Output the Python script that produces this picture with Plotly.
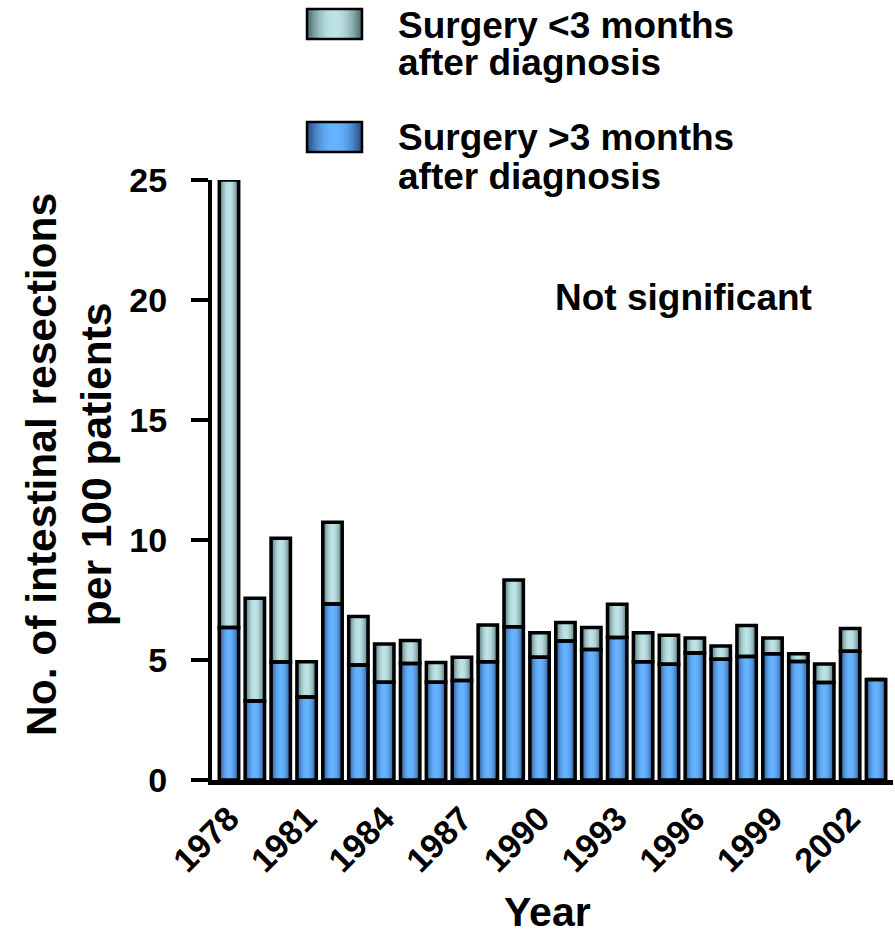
import plotly.graph_objects as go

# Intestinal resections per 100 patients, by year of diagnosis
years = list(range(1978, 2004))
late_surgery = [6.35, 3.29, 4.92, 3.46, 7.33, 4.79, 4.07, 4.85, 4.07, 4.15, 4.93, 6.39, 5.11,
                5.79, 5.44, 5.94, 4.93, 4.82, 5.29, 5.03, 5.15, 5.26, 4.94, 4.06, 5.36, 4.19]
early_surgery = [18.65, 4.28, 5.15, 1.47, 3.41, 2.02, 1.60, 0.96, 0.83, 0.96, 1.53, 1.94, 1.03,
                 0.77, 0.91, 1.38, 1.21, 1.21, 0.63, 0.55, 1.29, 0.66, 0.32, 0.77, 0.95, 0.0]
tick_years = [1978, 1981, 1984, 1987, 1990, 1993, 1996, 1999, 2002]
y_ticks = [0, 5, 10, 15, 20, 25]

label_early = ["Surgery <3 months", "after diagnosis"]
label_late = ["Surgery >3 months", "after diagnosis"]

FONT = "Liberation Sans, Arial, sans-serif"
BAR_W = 0.75
N_LAYERS = 12

EARLY_DARK, EARLY_LIGHT = (78, 106, 108), (188, 226, 228)
LATE_DARK, LATE_LIGHT = (40, 80, 132), (102, 178, 255)


def mix(a, b, t):
    return "rgb({},{},{})".format(*[round(a[i] + (b[i] - a[i]) * t) for i in range(3)])


def shade(k):
    frac = k / (N_LAYERS - 1)
    return 1 - (1 - frac) ** 2


x = list(range(len(years)))
late_base = [0] * len(years)
early_base = late_surgery

fig = go.Figure()

# Cylinder-like horizontal gradient: nested bars, lighter towards the centre
for k in range(N_LAYERS):
    w = BAR_W * (1 - k / N_LAYERS)
    t = shade(k)
    fig.add_trace(go.Bar(x=x, y=late_surgery, base=late_base, width=w,
                         marker=dict(color=mix(LATE_DARK, LATE_LIGHT, t), line=dict(width=0)),
                         showlegend=False, hoverinfo="skip"))
    fig.add_trace(go.Bar(x=x, y=early_surgery, base=early_base, width=w,
                         marker=dict(color=mix(EARLY_DARK, EARLY_LIGHT, t), line=dict(width=0)),
                         showlegend=False, hoverinfo="skip"))

# Black outlines on top of the gradient fills
fig.add_trace(go.Bar(x=x, y=late_surgery, base=late_base, width=BAR_W,
                     marker=dict(color="rgba(0,0,0,0)", line=dict(color="black", width=3.5)),
                     name=" ".join(label_late), showlegend=False))
fig.add_trace(go.Bar(x=x, y=early_surgery, base=early_base, width=BAR_W,
                     marker=dict(color="rgba(0,0,0,0)", line=dict(color="black", width=3.5)),
                     name=" ".join(label_early), showlegend=False))

# Legend drawn by hand: gradient swatch + two-line label
shapes = []
annotations = []
PX_L, PX_W, PX_T, PX_H = 212, 681, 180, 600


def px_x(v):
    return (v - PX_L) / PX_W


def px_y(v):
    return (PX_T + PX_H - v) / PX_H


def swatch(x0, x1, y0, y1, dark, light):
    cx = (x0 + x1) / 2
    half = (x1 - x0) / 2
    for k in range(N_LAYERS):
        h = half * (1 - k / N_LAYERS)
        shapes.append(dict(type="rect", xref="paper", yref="paper",
                           x0=px_x(cx - h), x1=px_x(cx + h), y0=px_y(y1), y1=px_y(y0),
                           fillcolor=mix(dark, light, shade(k)), line=dict(width=0), layer="above"))
    shapes.append(dict(type="rect", xref="paper", yref="paper",
                       x0=px_x(x0), x1=px_x(x1), y0=px_y(y1), y1=px_y(y0),
                       fillcolor="rgba(0,0,0,0)", line=dict(color="black", width=2.5), layer="above"))


swatch(307, 362, 9, 39, EARLY_DARK, EARLY_LIGHT)
swatch(307, 362, 122, 152, LATE_DARK, LATE_LIGHT)

for lines, mids in ((label_early, (25, 63)), (label_late, (138, 176))):
    for txt, ym in zip(lines, mids):
        annotations.append(dict(text=txt, xref="paper", yref="paper", x=px_x(396), y=px_y(ym),
                                xanchor="left", yanchor="middle", showarrow=False,
                                font=dict(size=37, family=FONT, color="black", weight="bold")))

annotations.append(dict(text="Not significant", xref="paper", yref="paper",
                        x=px_x(553), y=px_y(297), xanchor="left", yanchor="middle", showarrow=False,
                        font=dict(size=37, family=FONT, color="black", weight="bold")))

annotations.append(dict(text="No. of intestinal resections<br>per 100 patients",
                        xref="paper", yref="paper", x=px_x(69), y=px_y(465),
                        xanchor="center", yanchor="middle", textangle=-90, showarrow=False,
                        font=dict(size=42.5, family=FONT, color="black", weight="bold")))

annotations.append(dict(text="Year", xref="paper", yref="paper", x=px_x(547), y=px_y(912),
                        xanchor="center", yanchor="middle", showarrow=False,
                        font=dict(size=41, family=FONT, color="black", weight="bold")))

fig.update_layout(
    barmode="overlay",
    width=895, height=938,
    margin=dict(l=PX_L, r=895 - PX_L - PX_W, t=PX_T, b=938 - PX_T - PX_H, autoexpand=False),
    paper_bgcolor="white", plot_bgcolor="white",
    font=dict(family=FONT, color="black", weight="bold"),
    shapes=shapes, annotations=annotations,
    xaxis=dict(range=[-0.656, len(years) - 1 + 0.656],
               tickmode="array", tickvals=[years.index(v) for v in tick_years],
               ticktext=[str(v) for v in tick_years],
               tickangle=-45, tickfont=dict(size=34, family=FONT, weight="bold"),
               showline=True, linecolor="black", linewidth=5, ticks="",
               showgrid=False, zeroline=False, fixedrange=True),
    yaxis=dict(range=[0, 25], tickmode="array", tickvals=y_ticks,
               tickfont=dict(size=34, family=FONT, weight="bold"),
               ticks="outside", ticklen=17, tickwidth=4, tickcolor="black",
               ticklabelstandoff=17,
               showline=True, linecolor="black", linewidth=4,
               showgrid=False, zeroline=False, fixedrange=True),
)

fig.write_html("out.html")
